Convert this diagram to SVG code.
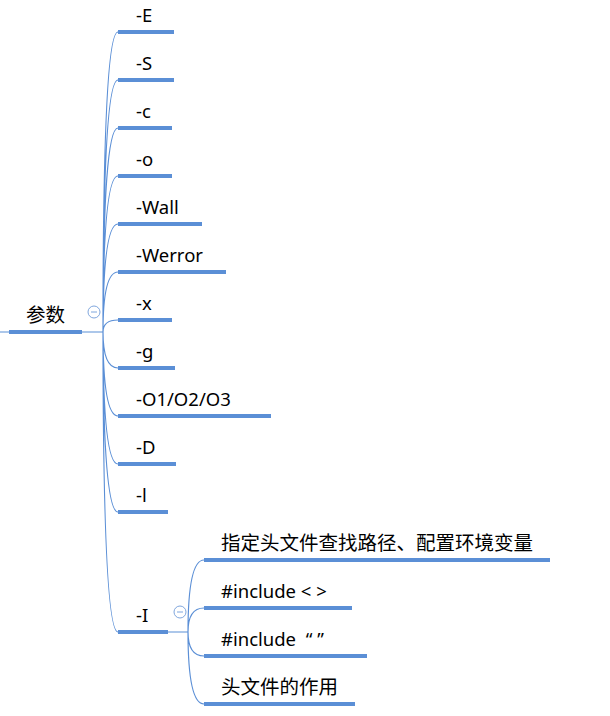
<svg xmlns="http://www.w3.org/2000/svg" width="610" height="716" viewBox="0 0 610 716">
<style>
.u{stroke:#5b8fd6;stroke-width:4;fill:none}
.c{stroke:#5b8fd6;stroke-width:1.2;fill:none}
text{font-family:"Noto Sans","Noto Sans CJK SC",sans-serif;font-size:18.5px;fill:#000}
.z{font-family:"Noto Sans CJK SC",sans-serif;font-size:19.5px}
.k{fill:#fff;stroke:#7fa6dd;stroke-width:1}
</style>
<rect width="610" height="716" fill="#fff"/>
<g id="connectors">
<path class="c" d="M0,332H9M82,332H103"/>
<path class="c" d="M103,332Q103,32 118,32M103,332Q103,80 118,80M103,332Q103,128 118,128M103,332Q103,176 118,176M103,332Q103,224 118,224M103,332Q103,272 118,272M103,332Q103,320 118,320M103,332Q103,368 118,368M103,332Q103,416 118,416M103,332Q103,464 118,464M103,332Q103,512 118,512M103,332Q103,632 118,632"/>
<path class="c" d="M168,632H188M188,632Q188,560 204,560M188,632Q188,608 204,608M188,632Q188,656 204,656M188,632Q188,704 204,704"/>
</g>
<g id="root"><line class="u" x1="9" y1="332" x2="82" y2="332"/><text class="z" x="26" y="322">参数</text>
<circle class="k" cx="94" cy="312" r="6"/><line x1="91" y1="312" x2="97" y2="312" stroke="#7fa6dd"/></g>
<g id="n1"><line class="u" x1="118" y1="32" x2="174" y2="32"/><text x="136" y="22">-E</text></g>
<g id="n2"><line class="u" x1="118" y1="80" x2="174" y2="80"/><text x="136" y="70">-S</text></g>
<g id="n3"><line class="u" x1="118" y1="128" x2="172" y2="128"/><text x="136" y="118">-c</text></g>
<g id="n4"><line class="u" x1="118" y1="176" x2="172" y2="176"/><text x="136" y="166">-o</text></g>
<g id="n5"><line class="u" x1="118" y1="224" x2="202" y2="224"/><text x="136" y="214">-Wall</text></g>
<g id="n6"><line class="u" x1="118" y1="272" x2="226" y2="272"/><text x="136" y="262">-Werror</text></g>
<g id="n7"><line class="u" x1="118" y1="320" x2="172" y2="320"/><text x="136" y="310">-x</text></g>
<g id="n8"><line class="u" x1="118" y1="368" x2="175" y2="368"/><text x="136" y="358">-g</text></g>
<g id="n9"><line class="u" x1="118" y1="416" x2="271" y2="416"/><text x="136" y="406">-O1/O2/O3</text></g>
<g id="n10"><line class="u" x1="118" y1="464" x2="176" y2="464"/><text x="136" y="454">-D</text></g>
<g id="n11"><line class="u" x1="118" y1="512" x2="168" y2="512"/><text x="136" y="502">-l</text></g>
<g id="n12"><line class="u" x1="118" y1="632" x2="168" y2="632"/><text x="136" y="622">-I</text>
<circle class="k" cx="180" cy="612" r="6"/><line x1="177" y1="612" x2="183" y2="612" stroke="#7fa6dd"/></g>
<g id="s1"><line class="u" x1="204" y1="560" x2="550" y2="560"/><text class="z" x="221" y="550">指定头文件查找路径、配置环境变量</text></g>
<g id="s2"><line class="u" x1="204" y1="608" x2="352" y2="608"/><text x="221" y="598">#include &lt; &gt;</text></g>
<g id="s3"><line class="u" x1="204" y1="656" x2="367" y2="656"/><text x="221" y="646" xml:space="preserve">#include  “ ”</text></g>
<g id="s4"><line class="u" x1="204" y1="704" x2="355" y2="704"/><text class="z" x="221" y="694">头文件的作用</text></g>
</svg>
